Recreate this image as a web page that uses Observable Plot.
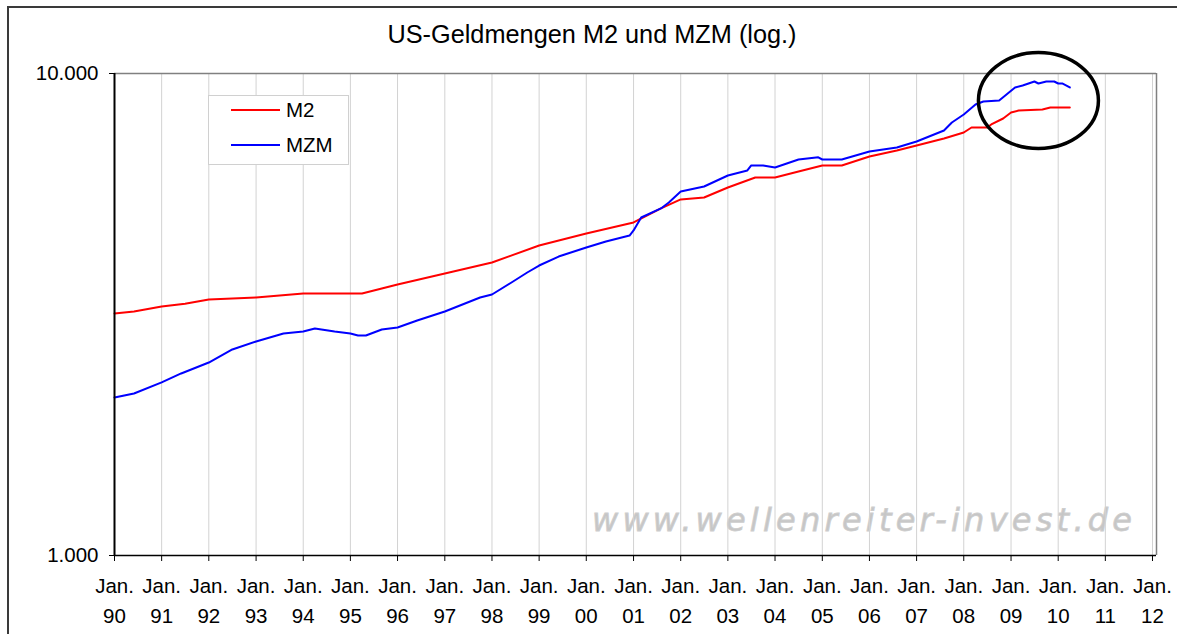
<!DOCTYPE html>
<html><head><meta charset="utf-8">
<script src="https://cdn.jsdelivr.net/npm/d3@7"></script>
<script src="https://cdn.jsdelivr.net/npm/@observablehq/plot@0.6"></script>
<style>
html,body{margin:0;padding:0;background:#fff;overflow:hidden;}
#wrap{position:relative;width:1177px;height:634px;font-family:"Liberation Sans",Arial,sans-serif;}
#border{position:absolute;left:7px;top:6px;width:1400px;height:900px;border-left:2px solid #3a3a3a;border-top:2px solid #3a3a3a;box-sizing:border-box;}
#chart{position:absolute;left:0;top:0;}
</style>
</head><body>
<div id="wrap"><div id="border"></div><div id="chart"></div></div>
<script>
const titleText = "US-Geldmengen M2 und MZM (log.)";
const watermarkText = "www.wellenreiter-invest.de";
const seriesNames = ["M2", "MZM"];
const seriesColors = ["#ff0000", "#0000ff"];

const m2Dates = ["1990-01","1990-06","1991-01","1991-07","1992-01","1993-01","1994-01","1995-04","1995-09","1996-01","1997-01","1998-01","1999-01","2000-01","2001-01","2001-08","2002-01","2002-07","2003-01","2003-08","2004-01","2004-07","2005-01","2005-06","2006-01","2006-08","2007-01","2007-08","2008-01","2008-03","2008-07","2008-08","2008-11","2009-01","2009-03","2009-09","2009-11","2010-04"];
const m2Values = [3178,3208,3286,3330,3398,3430,3496,3496,3580,3650,3846,4054,4398,4656,4908,5248,5479,5531,5801,6085,6085,6262,6444,6444,6726,6922,7089,7330,7544,7727,7727,7839,8066,8300,8380,8420,8501,8501];

const mzmDates = ["1990-01","1990-06","1991-01","1991-06","1992-01","1992-07","1993-01","1993-08","1994-01","1994-04","1994-09","1995-01","1995-03","1995-05","1995-09","1996-01","1996-06","1997-01","1997-10","1998-01","1998-06","1998-10","1999-01","1999-06","2000-01","2000-06","2000-12","2001-01","2001-03","2001-08","2001-10","2002-01","2002-07","2003-01","2003-06","2003-07","2003-10","2004-01","2004-07","2004-12","2005-01","2005-06","2006-01","2006-08","2007-01","2007-08","2007-10","2008-01","2008-04","2008-06","2008-10","2009-02","2009-04","2009-07","2009-08","2009-10","2009-12","2010-01","2010-02","2010-04"];
const mzmValues = [2127,2168,2286,2386,2514,2676,2780,2888,2915,2958,2915,2888,2860,2860,2944,2972,3073,3208,3430,3479,3685,3865,3996,4171,4355,4482,4612,4724,5026,5248,5400,5691,5829,6143,6293,6444,6444,6383,6631,6700,6631,6631,6890,7022,7226,7616,7914,8221,8625,8749,8790,9354,9443,9625,9534,9625,9625,9534,9534,9354];

const tickDates = ["1990-01","1991-01","1992-01","1993-01","1994-01","1995-01","1996-01","1997-01","1998-01","1999-01","2000-01","2001-01","2002-01","2003-01","2004-01","2005-01","2006-01","2007-01","2008-01","2009-01","2010-01","2011-01","2012-01"];
const tickLabels = ["90","91","92","93","94","95","96","97","98","99","00","01","02","03","04","05","06","07","08","09","10","11","12"];
const yTicks = [1000, 10000];
const yTickLabels = ["1.000", "10.000"];

const highlightDates = ["2009-08"];
const highlightValues = [8790];

const parse = d3.utcParse("%Y-%m");
const data = [
  ...m2Dates.map((d, i) => ({series: seriesNames[0], date: parse(d), value: m2Values[i]})),
  ...mzmDates.map((d, i) => ({series: seriesNames[1], date: parse(d), value: mzmValues[i]}))
];
const ticks = tickDates.map(parse);
const tickMap = new Map(ticks.map((t, i) => [+t, tickLabels[i]]));
const yMap = new Map(yTicks.map((t, i) => [t, yTickLabels[i]]));
const xDomain = [parse("1990-01"), parse("2012-02")];
const highlight = highlightDates.map((d, i) => ({date: parse(d), value: highlightValues[i]}));

const plot = Plot.plot({
  width: 1177, height: 634,
  marginLeft: 114, marginRight: 21, marginTop: 73, marginBottom: 79,
  style: {fontFamily: "'Liberation Sans', Arial, sans-serif", fontSize: "20.5px", color: "#000", background: "transparent", overflow: "visible"},
  x: {type: "utc", domain: xDomain, label: null},
  y: {type: "log", domain: [1000, 10000], label: null},
  color: {domain: seriesNames, range: seriesColors},
  marks: [
    Plot.gridX(ticks, {stroke: "#d2d2d2", strokeOpacity: 1, strokeWidth: 1}),
    Plot.ruleY([10000], {stroke: "#808080", strokeWidth: 1.5}),
    Plot.ruleX([xDomain[1]], {stroke: "#808080", strokeWidth: 1.5}),
    Plot.line(data, {x: "date", y: "value", z: "series", stroke: "series", strokeWidth: 2}),
    Plot.ruleX([xDomain[0]], {stroke: "#000", strokeWidth: 2}),
    Plot.ruleY([1000], {stroke: "#000", strokeWidth: 1.5}),
    Plot.axisX({ticks: ticks, tickFormat: d => "Jan.\n" + tickMap.get(+d), tickSize: 6, tickPadding: 10, lineHeight: 1.46, stroke: "#000", strokeOpacity: 1, fill: "#000", label: null}),
    Plot.axisY({ticks: yTicks, tickFormat: d => yMap.get(d), tickSize: 5, tickPadding: 11, stroke: "#000", strokeOpacity: 1, fill: "#000", label: null}),
    Plot.dot(highlight, {x: "date", y: "value", r: 48, stroke: "#000", strokeWidth: 3.5, fill: "none"})
  ]
});
document.getElementById("chart").appendChild(plot);

const svg = d3.select(plot);
// ellipse annotation (replace the highlight dot by an ellipse of the same centre)
const highlightRx = 60, highlightRy = 48;
svg.selectAll("circle").filter(function() { return +this.getAttribute("r") === 48; }).each(function() {
  const c = d3.select(this);
  const cx = c.attr("cx"), cy = c.attr("cy");
  const tr = c.attr("transform");
  const g = d3.select(this.parentNode);
  const e = g.append("ellipse").attr("rx", highlightRx).attr("ry", highlightRy).attr("fill", "none").attr("stroke", "#000").attr("stroke-width", 3.5);
  if (cx != null) e.attr("cx", cx).attr("cy", cy);
  if (tr) e.attr("transform", tr);
  c.remove();
});

// watermark (behind grid)
svg.insert("text", "g")
  .attr("x", 592).attr("y", 531)
  .attr("text-anchor", "start")
  .attr("textLength", 540).attr("lengthAdjust", "spacing")
  .attr("font-size", 32).attr("font-style", "oblique")
  .attr("fill", "#c6c6c6")
  .attr("stroke", "#cecece").attr("stroke-width", 0.8)
  .attr("font-family", "'DejaVu Sans', sans-serif")
  .text(watermarkText);

// title
svg.append("text")
  .attr("x", 592).attr("y", 43)
  .attr("text-anchor", "middle")
  .attr("font-size", 25.3)
  .attr("fill", "#000")
  .text(titleText);

// legend
const lg = svg.append("g");
lg.append("rect").attr("x", 208.5).attr("y", 95.5).attr("width", 140).attr("height", 69)
  .attr("fill", "#fff").attr("stroke", "#d0d0d0").attr("stroke-width", 1);
seriesNames.forEach((name, i) => {
  const cy = 110 + i * 35;
  lg.append("line").attr("x1", 231).attr("x2", 280).attr("y1", cy).attr("y2", cy)
    .attr("stroke", seriesColors[i]).attr("stroke-width", 2);
  lg.append("text").attr("x", 286).attr("y", cy + 7.3).attr("text-anchor", "start")
    .attr("font-size", 20.5).attr("fill", "#000").text(name);
});
</script>
</body></html>
